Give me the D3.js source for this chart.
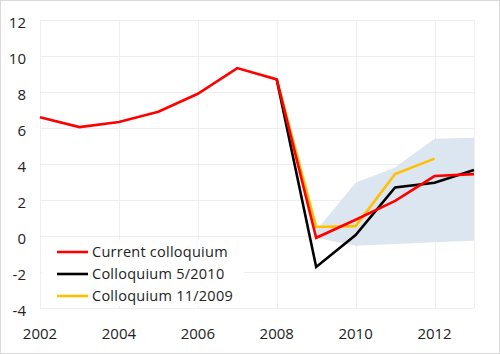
<!DOCTYPE html>
<html>
<head>
<meta charset="utf-8">
<script src="https://cdn.jsdelivr.net/npm/d3@7"></script>
<style>
  body { margin: 0; background: #fff; }
  svg { display: block; font-family: "Open Sans", sans-serif; }
</style>
</head>
<body>
<div id="chart"></div>
<script>
// data
const years = [2002, 2003, 2004, 2005, 2006, 2007, 2008, 2009, 2010, 2011, 2012, 2013];
const current = [6.6, 6.05, 6.33, 6.9, 7.9, 9.33, 8.7, -0.1, 0.9, 1.95, 3.33, 3.44];
const coll2010Years = [2008, 2009, 2010, 2011, 2012, 2013];
const coll2010 = [8.7, -1.72, 0.05, 2.7, 2.96, 3.67];
const coll2009Years = [2008, 2009, 2010, 2011, 2012];
const coll2009 = [8.7, 0.5, 0.55, 3.44, 4.3];
const bandYears = [2009, 2010, 2011, 2012, 2013];
const bandLow = [-0.1, -0.54, -0.45, -0.35, -0.26];
const bandHigh = [0.3, 2.96, 3.8, 5.4, 5.46];
const yTicks = [-4, -2, 0, 2, 4, 6, 8, 10, 12];
const xTicks = [2002, 2004, 2006, 2008, 2010, 2012];

const W = 500, H = 354;
const margin = {top: 20, right: 26, bottom: 46, left: 40};

const svg = d3.select("#chart").append("svg")
    .attr("width", W)
    .attr("height", H);

// outer frame
svg.append("rect")
    .attr("x", 0.5).attr("y", 0.5)
    .attr("width", W - 1).attr("height", H - 1)
    .attr("fill", "#fff")
    .attr("stroke", "#d9d9d9");

const x = d3.scaleLinear()
    .domain([2002, 2013])
    .range([margin.left, W - margin.right]);
const y = d3.scaleLinear()
    .domain([-4, 12])
    .range([H - margin.bottom, margin.top]);

// grid
const grid = svg.append("g").attr("stroke", "#efefef").attr("stroke-width", 1);
grid.selectAll(".h").data(yTicks).enter().append("line")
    .attr("x1", x(2002)).attr("x2", x(2013))
    .attr("y1", d => Math.round(y(d)) + 0.5).attr("y2", d => Math.round(y(d)) + 0.5);
grid.selectAll(".v").data(xTicks.concat([2013])).enter().append("line")
    .attr("y1", y(12)).attr("y2", y(-4))
    .attr("x1", d => Math.round(x(d)) + 0.5).attr("x2", d => Math.round(x(d)) + 0.5);

// forecast band
const area = d3.area()
    .x((d, i) => x(bandYears[i]))
    .y0((d, i) => y(bandLow[i]))
    .y1((d, i) => y(bandHigh[i]));
svg.append("path")
    .attr("d", area(bandYears))
    .attr("fill", "#dce6f0");

// legend box (white, covers grid)
svg.append("rect")
    .attr("x", 42).attr("y", 240)
    .attr("width", 202).attr("height", 66)
    .attr("fill", "#fff");

const line = (xs, ys) => d3.line()
    .x((d, i) => x(xs[i]))
    .y((d, i) => y(ys[i]))(xs);

const series = [
  {name: "Colloquium 11/2009", xs: coll2009Years, ys: coll2009, color: "#ffc000"},
  {name: "Colloquium 5/2010", xs: coll2010Years, ys: coll2010, color: "#000000"},
  {name: "Current colloquium", xs: years, ys: current, color: "#ff0000"}
];

series.forEach(s => {
  svg.append("path")
      .attr("d", line(s.xs, s.ys))
      .attr("fill", "none")
      .attr("stroke", s.color)
      .attr("stroke-width", 2.6)
      .attr("stroke-linejoin", "miter");
});

// axes labels
svg.selectAll(".ylab").data(yTicks).enter().append("text")
    .attr("x", 26)
    .attr("y", d => y(d) + 8)
    .attr("text-anchor", "end")
    .attr("font-size", 15)
    .attr("fill", "#222")
    .text(d => d);

svg.selectAll(".xlab").data(xTicks).enter().append("text")
    .attr("x", d => x(d))
    .attr("y", 339)
    .attr("text-anchor", "middle")
    .attr("font-size", 15)
    .attr("fill", "#222")
    .text(d => d);

// legend
const legendItems = series.slice().reverse();
const lg = svg.append("g");
legendItems.forEach((s, i) => {
  const ly = 252 + i * 22;
  lg.append("line")
      .attr("x1", 57).attr("x2", 88)
      .attr("y1", ly).attr("y2", ly)
      .attr("stroke", s.color)
      .attr("stroke-width", 2.6);
  lg.append("text")
      .attr("x", 92)
      .attr("y", ly + 5)
      .attr("font-size", 14.5)
      .attr("letter-spacing", 0.25)
      .attr("fill", "#222")
      .text(s.name);
});
</script>
</body>
</html>
